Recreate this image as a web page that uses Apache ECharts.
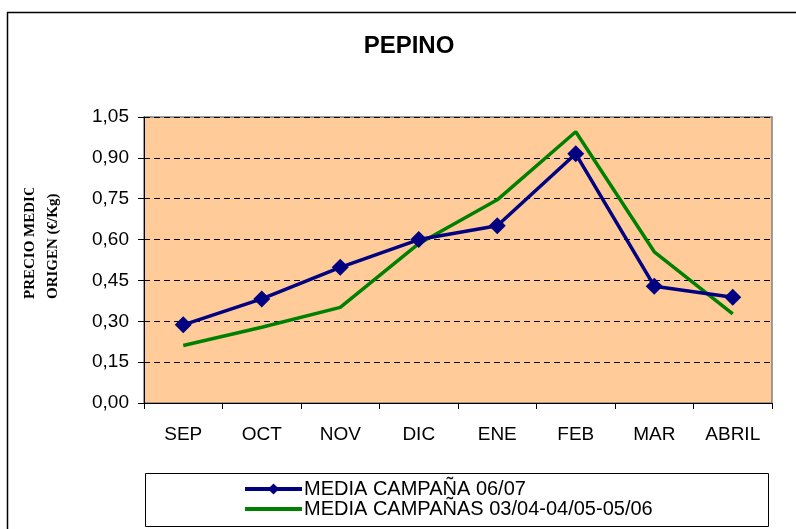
<!DOCTYPE html>
<html>
<head>
    <meta charset="utf-8">
    <title>PEPINO</title>
    <script src="https://cdn.jsdelivr.net/npm/echarts@6/dist/echarts.min.js"></script>
    <style>
        html, body { margin: 0; padding: 0; background: #fff; }
        #chart { width: 796px; height: 529px; }
    </style>
</head>
<body>
    <div id="chart"></div>
    <script type="text/javascript">
        // datos
        var meses = ['SEP', 'OCT', 'NOV', 'DIC', 'ENE', 'FEB', 'MAR', 'ABRIL'];
        var campana0607 = [0.287, 0.382, 0.498, 0.600, 0.651, 0.915, 0.429, 0.388];
        var campanasAnt = [0.211, 0.278, 0.351, 0.585, 0.746, 0.996, 0.555, 0.327];
        var nombres = ['MEDIA CAMPAÑA 06/07', 'MEDIA CAMPAÑAS 03/04-04/05-05/06'];

        var chart = echarts.init(document.getElementById('chart'));

        var option = {
            animation: false,
            title: {
                text: 'PEPINO',
                left: 404,
                top: 29,
                textAlign: 'center',
                textStyle: { fontFamily: 'Liberation Sans', fontWeight: 'bold', fontSize: 24, color: '#000' }
            },
            legend: {
                orient: 'vertical',
                left: 243,
                top: 479,
                itemGap: 0,
                itemWidth: 57,
                itemHeight: 14,
                padding: 0,
                lineStyle: { width: 4 },
                data: [
                    { name: nombres[0] },
                    { name: nombres[1], itemStyle: { opacity: 0 } }
                ],
                textStyle: { fontFamily: 'Liberation Sans', fontSize: 20, lineHeight: 19, color: '#000', padding: [0, 0, 0, -3] }
            },
            graphic: [
                {
                    type: 'rect',
                    shape: { x: 7.5, y: 12.5, width: 820, height: 540 },
                    style: { fill: 'none', stroke: '#000', lineWidth: 1.5 }
                },
                {
                    type: 'rect',
                    shape: { x: 145.5, y: 473.5, width: 623, height: 53 },
                    style: { fill: 'none', stroke: '#000', lineWidth: 1 }
                },
                {
                    type: 'text',
                    x: 30,
                    y: 299,
                    rotation: Math.PI / 2,
                    style: {
                        text: 'PRECIO MEDIO',
                        fontFamily: 'Liberation Serif',
                        fontWeight: 'bold',
                        fontSize: 15,
                        fill: '#000',
                        textAlign: 'left',
                        textVerticalAlign: 'middle'
                    }
                },
                {
                    type: 'text',
                    x: 53,
                    y: 299,
                    rotation: Math.PI / 2,
                    style: {
                        text: 'ORIGEN (€/Kg)',
                        fontFamily: 'Liberation Serif',
                        fontWeight: 'bold',
                        fontSize: 15,
                        fill: '#000',
                        textAlign: 'left',
                        textVerticalAlign: 'middle'
                    }
                },
                {
                    // recorte del título del eje como en el original
                    type: 'rect',
                    z: 100,
                    shape: { x: 18, y: 160, width: 24, height: 28 },
                    style: { fill: '#fff' }
                }
            ],
            grid: {
                left: 144,
                right: 24,
                top: 117,
                bottom: 126,
                outerBoundsMode: 'none',
                show: true,
                backgroundColor: '#FFCC99',
                borderColor: '#808080',
                borderWidth: 1.5
            },
            xAxis: {
                type: 'category',
                data: meses,
                boundaryGap: true,
                axisLine: { lineStyle: { color: '#000', width: 1 } },
                axisTick: { show: true, inside: false, length: 6, interval: 0, lineStyle: { color: '#000' } },
                axisLabel: { margin: 22, fontFamily: 'Liberation Sans', fontSize: 19, color: '#000' }
            },
            yAxis: {
                type: 'value',
                min: 0,
                max: 1.05,
                interval: 0.15,
                axisLine: { show: true, lineStyle: { color: '#000', width: 1 } },
                axisTick: { show: true, length: 6, lineStyle: { color: '#000' } },
                axisLabel: {
                    margin: 15,
                    fontFamily: 'Liberation Sans',
                    fontSize: 19,
                    color: '#000',
                    formatter: function (v) { return v.toFixed(2).replace('.', ','); }
                },
                splitLine: { show: true, lineStyle: { color: '#000', type: [6, 4], width: 1 } }
            },
            series: [
                {
                    name: nombres[0],
                    type: 'line',
                    data: campana0607,
                    symbol: 'diamond',
                    symbolSize: 17,
                    z: 3,
                    itemStyle: { color: '#000080' },
                    lineStyle: { color: '#000080', width: 3.5 }
                },
                {
                    name: nombres[1],
                    type: 'line',
                    data: campanasAnt,
                    symbol: 'none',
                    z: 2,
                    itemStyle: { color: '#008000' },
                    lineStyle: { color: '#008000', width: 3.5 }
                }
            ]
        };

        chart.setOption(option);
    </script>
</body>
</html>
